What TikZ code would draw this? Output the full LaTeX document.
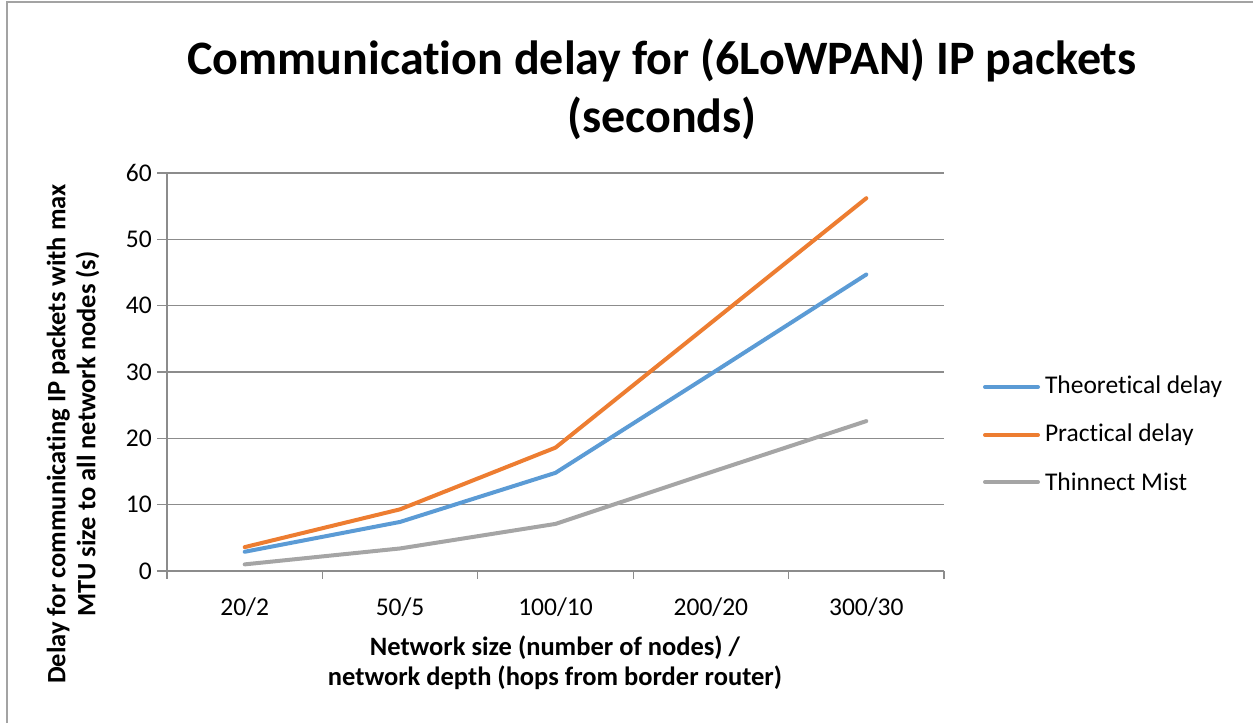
\documentclass[tikz,border=0pt]{standalone}
\usepackage{fontspec}
\setmainfont[Ligatures={NoCommon}]{Carlito}
\usepackage{tikz}
\usetikzlibrary{positioning}

\definecolor{theoblue}{HTML}{5B9BD5}
\definecolor{practorange}{HTML}{ED7D31}
\definecolor{mistgray}{HTML}{A5A5A5}
\definecolor{axisgray}{HTML}{8C8C8C}

\tikzset{
  gridline/.style={draw=axisgray, line width=1.3pt},
  series/.style={line width=4pt, line cap=round, line join=round},
  ticklabel/.style={inner sep=0pt, font=\fontsize{25.5}{30}\selectfont},
  axistitle/.style={align=center, inner sep=0pt, font=\fontsize{26.5}{30}\selectfont\bfseries},
  legendtext/.style={anchor=west, inner sep=0pt, text=black, font=\fontsize{25.5}{30}\selectfont}
}

\begin{document}
\begin{tikzpicture}[x=1pt, y=-1pt]
        \useasboundingbox (0,0) rectangle (1253,723);
        % Frame
        \draw[draw=axisgray!80, line width=1.5pt] (7,723) -- (7,2) -- (1253,2);
        % Title
        \node[align=center, inner sep=0pt, font=\fontsize{48}{58}\selectfont\bfseries] (title) at (662,89)
          {Communication delay for (6LoWPAN) IP packets\\(seconds)};
        % Gridlines and value axis
        \foreach \v/\lab in {0/0,1/10,2/20,3/30,4/40,5/50,6/60} {
          \draw[gridline] (157,571-66.33*\v) -- (944,571-66.33*\v);
          \node[ticklabel, anchor=east] (ylab\v) at (152,571-66.33*\v) {\lab};
        }
        \draw[gridline] (167,173) -- (167,571);
        % Category ticks
        \foreach \i in {0,...,5} {
          \draw[gridline] (167+155.4*\i,571) -- (167+155.4*\i,579);
        }
        % Category labels
        \node[ticklabel] (cat1) at (244.7,607) {20/2};
        \node[ticklabel] (cat2) at (400.1,607) {50/5};
        \node[ticklabel] (cat3) at (555.5,607) {100/10};
        \node[ticklabel] (cat4) at (710.9,607) {200/20};
        \node[ticklabel] (cat5) at (866.3,607) {300/30};
        % Axis titles
        \node[axistitle] (xtitle) at (555,663)
          {Network size (number of nodes) /\\network depth (hops from border router)};
        \node[axistitle, rotate=90] (ytitle) at (73,434)
          {Delay for communicating IP packets with max\\MTU size to all network nodes (s)};
        % Data series
        \begin{scope}[shift={(167,571)}, x=155.4pt, y=6.633pt]
          \draw[series, mistgray] (0.5,1.0) -- (1.5,3.4) -- (2.5,7.1) -- (3.5,14.9) -- (4.5,22.6);
          \draw[series, theoblue] (0.5,2.9) -- (1.5,7.4) -- (2.5,14.8) -- (3.5,29.7) -- (4.5,44.7);
          \draw[series, practorange] (0.5,3.6) -- (1.5,9.3) -- (2.5,18.6) -- (3.5,37.4) -- (4.5,56.2);
        \end{scope}
        % Legend
        \coordinate (leg1) at (985,387);
        \coordinate (leg2) at (985,435);
        \coordinate (leg3) at (985,482);
        \draw[series, theoblue] (leg1) -- ++(53,0) node[legendtext, right=5pt] (legtext1) {Theoretical delay};
        \draw[series, practorange] (leg2) -- ++(53,0) node[legendtext, right=5pt] (legtext2) {Practical delay};
        \draw[series, mistgray] (leg3) -- ++(53,0) node[legendtext, right=5pt] (legtext3) {Thinnect Mist};
    \end{tikzpicture}
\end{document}
